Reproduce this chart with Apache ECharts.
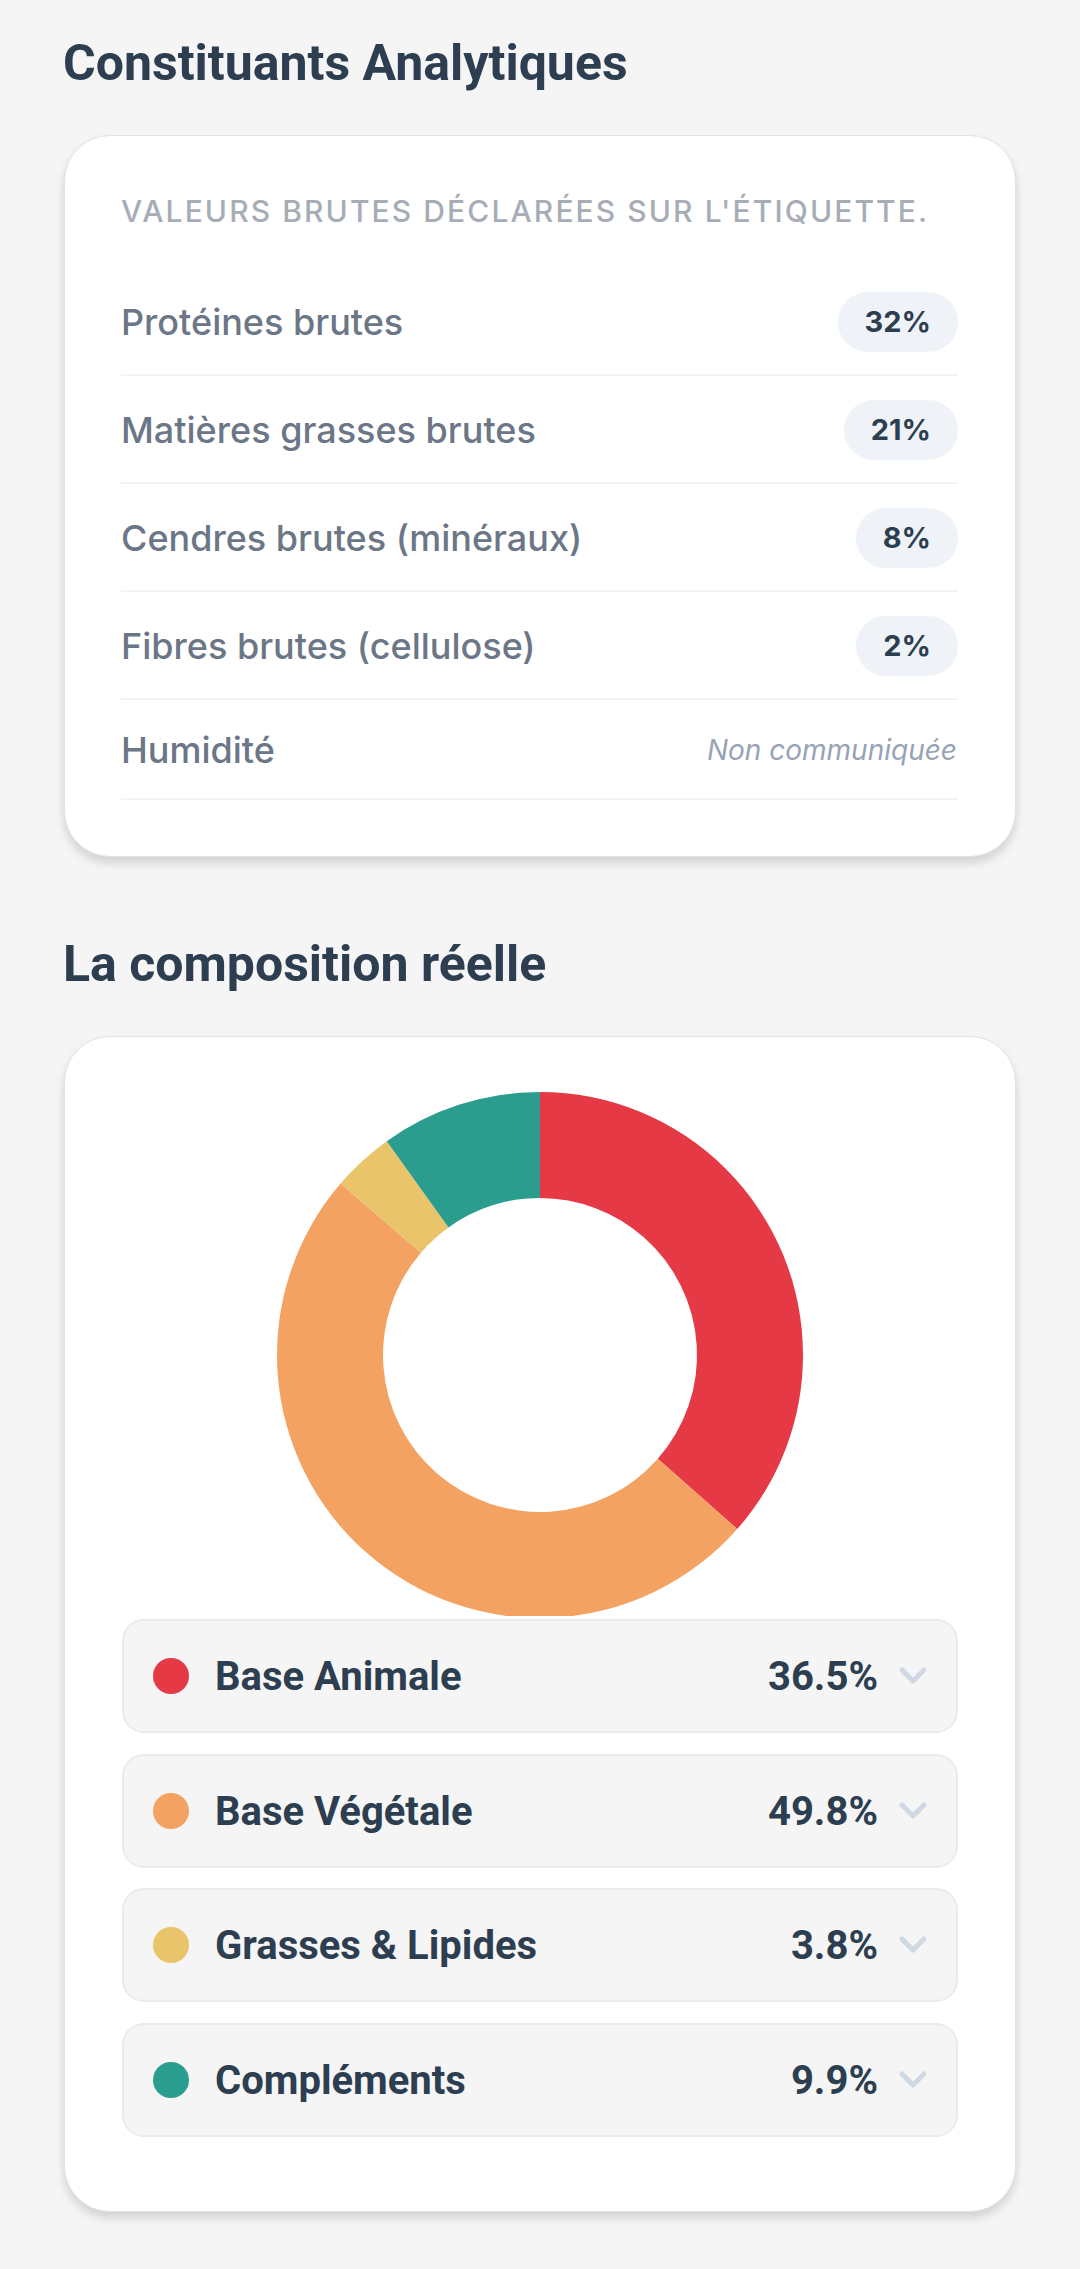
<!DOCTYPE html>
<html lang="fr">
<head>
<meta charset="utf-8">
<style>
  html, body { margin:0; padding:0; }
  body { width:1080px; height:2269px; background:#f5f5f5; position:relative; overflow:hidden; font-family: Roboto, "Noto Sans", sans-serif; }
  .h { position:absolute; left:63px; height:60px; line-height:60px; font-family:Roboto, sans-serif; font-weight:700; font-size:50px; color:#2c3e50; white-space:nowrap; }
  .card { position:absolute; left:64px; width:952px; background:#fff; border-radius:46px; border:1px solid #e2e2e2; box-sizing:border-box; box-shadow:0 6px 10px rgba(0,0,0,0.14); }
  .sub { position:absolute; left:121px; top:191px; height:40px; line-height:40px; font-family:Inter, sans-serif; font-weight:500; font-size:30px; letter-spacing:2.1px; color:#a7adb6; white-space:nowrap; }
  .row { position:absolute; left:121px; width:837px; height:108px; border-bottom:2px solid #f2f4f7; box-sizing:border-box; }
  .row .lab { position:absolute; left:0; top:24px; height:60px; line-height:60px; font-family:Inter, sans-serif; font-weight:500; font-size:36px; color:#6b7686; white-space:nowrap; }
  .row .pill { position:absolute; right:0px; top:24px; height:60px; line-height:60px; padding:0 27px; border-radius:30px; background:#eff3f8; font-family:Inter, sans-serif; font-weight:700; font-size:29px; color:#2c3e50; }
  .row .nc { position:absolute; right:1px; top:24px; height:60px; line-height:60px; font-family:Inter, sans-serif; font-style:italic; font-size:28px; color:#97a3b6; white-space:nowrap; }
  .leg { position:absolute; left:122px; width:836px; height:114px; background:#f5f5f5; border:2px solid #ebebeb; border-radius:22px; box-sizing:border-box; }
  .leg .dot { position:absolute; left:29px; top:37px; width:36px; height:36px; border-radius:50%; }
  .leg .nm { position:absolute; left:91px; top:26px; height:60px; line-height:60px; font-family:Roboto, sans-serif; font-weight:700; font-size:40px; color:#2c3e50; white-space:nowrap; }
  .leg .pc { position:absolute; right:78px; top:26px; height:60px; line-height:60px; font-family:Roboto, sans-serif; font-weight:700; font-size:40px; color:#2c3e50; white-space:nowrap; }
  .leg svg { position:absolute; right:28px; top:45px; }
  #donut { position:absolute; left:64px; top:1036px; width:952px; height:580px; }
</style>
</head>
<body>
<script>
// ---- data ----
const constituentLabels = ['Protéines brutes', 'Matières grasses brutes', 'Cendres brutes (minéraux)', 'Fibres brutes (cellulose)', 'Humidité'];
const constituentValues = [32, 21, 8, 2, null];
const missingText = 'Non communiquée';
const compCategories = ['Base Animale', 'Base Végétale', 'Grasses & Lipides', 'Compléments'];
const compValues = [36.5, 49.8, 3.8, 9.9];
const compColors = ['#e63946', '#f4a261', '#e9c46a', '#2a9d8f'];
</script>

<div class="h" style="top:33px;">Constituants Analytiques</div>
<div class="card" style="top:135px; height:722px;"></div>
<div class="sub">VALEURS BRUTES DÉCLARÉES SUR L'ÉTIQUETTE.</div>
<div id="rows"></div>

<div class="h" style="top:934px;">La composition réelle</div>
<div class="card" style="top:1036px; height:1176px;"></div>
<div id="donut"></div>
<div id="legend"></div>

<script src="https://cdn.jsdelivr.net/npm/echarts@6/dist/echarts.min.js"></script>
<script>
// constituent rows
(function(){
  const host = document.getElementById('rows');
  const last = constituentLabels.length - 1;
  constituentLabels.forEach((lab, i) => {
    const r = document.createElement('div');
    r.className = 'row';
    r.style.top = (268 + 108 * i) + 'px';
    const l = document.createElement('div');
    l.className = 'lab'; l.textContent = lab; r.appendChild(l);
    const v = constituentValues[i];
    const p = document.createElement('div');
    if (v === null) { p.className = 'nc'; p.textContent = missingText; }
    else { p.className = 'pill'; p.textContent = v + '%'; }
    r.appendChild(p);
    if (i === last) {
      r.style.height = '100px';
      l.style.top = '20px';
      p.style.top = '20px';
    }
    host.appendChild(r);
  });
  // legend items
  const lg = document.getElementById('legend');
  compCategories.forEach((c, i) => {
    const b = document.createElement('div');
    b.className = 'leg';
    b.style.top = (1619 + 134.5 * i) + 'px';
    b.innerHTML = '<div class="dot" style="background:' + compColors[i] + '"></div>' +
      '<div class="nm"></div><div class="pc"></div>' +
      '<svg width="30" height="20" viewBox="0 0 30 20"><polyline points="4,4 15,15 26,4" fill="none" stroke="#cfd8e3" stroke-width="5" stroke-linecap="round" stroke-linejoin="round"/></svg>';
    b.querySelector('.nm').textContent = c;
    b.querySelector('.pc').textContent = compValues[i].toFixed(1) + '%';
    lg.appendChild(b);
  });
})();

const chart = echarts.init(document.getElementById('donut'), null, { renderer: 'canvas' });
chart.setOption({
  animation: false,
  tooltip: { show: false },
  legend: { show: false },
  series: [{
    type: 'pie',
    center: [476, 319],
    radius: [157, 263],
    startAngle: 90,
    clockwise: true,
    avoidLabelOverlap: false,
    label: { show: false },
    labelLine: { show: false },
    emphasis: { disabled: true },
    itemStyle: { borderWidth: 0 },
    data: compCategories.map((c, i) => ({ name: c, value: compValues[i], itemStyle: { color: compColors[i] } }))
  }]
});
</script>
</body>
</html>
